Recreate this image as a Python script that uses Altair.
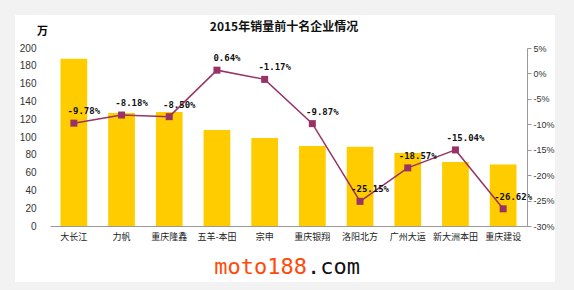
import altair as alt
import pandas as pd

companies = ["大长江", "力帆", "重庆隆鑫", "五羊-本田", "宗申", "重庆银翔",
             "洛阳北方", "广州大运", "新大洲本田", "重庆建设"]
sales = [188, 127, 128, 108, 99, 90, 89, 82, 72, 69]
growth = [-9.78, -8.18, -8.50, 0.64, -1.17, -9.87, -25.15, -18.57, -15.04, -26.62]
left_ticks = list(range(0, 201, 20))
right_ticks = list(range(-30, 6, 5))

df = pd.DataFrame({"company": companies, "sales": sales, "growth": growth})
df["label"] = [f"{g:.2f}%" for g in growth]

W, H = 477, 178
CJK = "Noto Sans CJK SC"
PURPLE = "#993366"

xenc = alt.X("company:N", sort=companies,
             scale=alt.Scale(paddingInner=0.44, paddingOuter=0.22),
             axis=alt.Axis(title=None, labelAngle=0, ticks=False, domainColor="#999999",
                           labelFont=CJK, labelFontSize=9, labelColor="#222222",
                           labelPadding=6, zindex=1))

base = alt.Chart(df)

panel = alt.Chart(alt.Data(values=[{}])).mark_rect(color="white").encode(
    x=alt.value(-35), x2=alt.value(505), y=alt.value(-33), y2=alt.value(234))

bars = base.mark_bar(color="#FFCC00").encode(
    x=xenc,
    y=alt.Y("sales:Q", scale=alt.Scale(domain=[0, 200], nice=False),
            axis=alt.Axis(values=left_ticks, title="万", titleAngle=0, titleX=-8, titleY=-17,
                          titleFont=CJK, titleFontSize=11, titleFontWeight="bold",
                          titleAlign="center", titleBaseline="middle",
                          ticks=False, domain=False, grid=False, labelPadding=14,
                          labelFont="Liberation Sans", labelFontSize=10,
                          labelColor="#333333", zindex=1)))

yr = alt.Y("growth:Q", scale=alt.Scale(domain=[-30, 5], nice=False),
           axis=alt.Axis(orient="right", values=right_ticks, title=None,
                         labelExpr="datum.value + '%'", grid=False,
                         domainColor="#999999", tickColor="#999999", tickSize=4,
                         labelPadding=2, labelFont="Liberation Sans", labelFontSize=9,
                         labelColor="#333333", zindex=1))

line = base.mark_line(color=PURPLE, strokeWidth=1.5).encode(x=xenc, y=yr)
pts = base.mark_point(shape="square", filled=True, size=49, color=PURPLE, opacity=1).encode(
    x=xenc, y=yr)
labels = base.mark_text(font="DejaVu Sans Mono", fontWeight="bold", fontSize=9,
                        dx=10, dy=-12, color="#111111").encode(x=xenc, y=yr, text="label:N")

right_layer = alt.layer(line, pts, labels)

title = alt.Chart(alt.Data(values=[{"t": "2015年销量前十名企业情况"}])).mark_text(
    font=CJK, fontSize=12, fontWeight="bold", color="#111111", baseline="middle"
).encode(x=alt.value(234), y=alt.value(-21), text="t:N")

wm1 = alt.Chart(alt.Data(values=[{"t": "moto188"}])).mark_text(
    font="DejaVu Sans Mono", fontSize=22, color="#FF4A0A", align="right", baseline="alphabetic"
).encode(x=alt.value(257), y=alt.value(226), text="t:N")
wm2 = alt.Chart(alt.Data(values=[{"t": ".com"}])).mark_text(
    font="DejaVu Sans Mono", fontSize=22, color="#111111", align="left", baseline="alphabetic"
).encode(x=alt.value(257), y=alt.value(226), text="t:N")

chart = alt.layer(panel, bars, right_layer, title, wm1, wm2).resolve_scale(
    y="independent"
).properties(
    width=W, height=H, background="#f2f2f2",
    autosize=alt.AutoSizeParams(type="none"),
    padding={"left": 50, "top": 48, "right": 47, "bottom": 64},
).configure_view(stroke=None)

chart.save("out.html", embed_options={"renderer": "svg", "actions": False})
